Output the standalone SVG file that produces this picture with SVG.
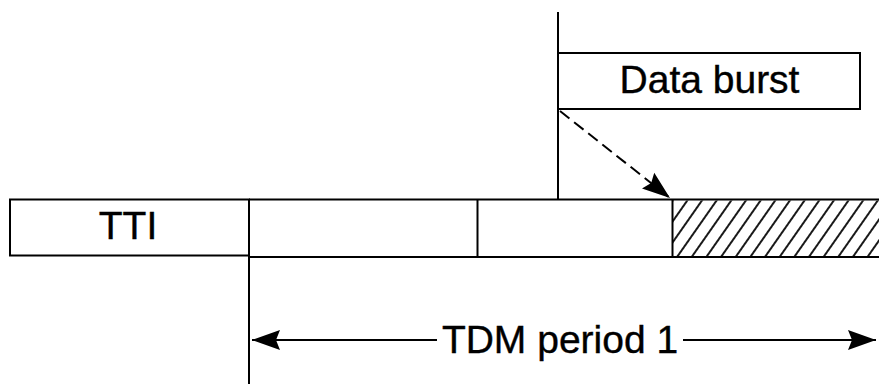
<svg xmlns="http://www.w3.org/2000/svg" width="879" height="385" viewBox="0 0 879 385">
  <style>
    .box { fill: #fff; stroke: #000; stroke-width: 2; }
    .ln { stroke: #000; stroke-width: 2; fill: none; }
    .lbl { font-family: "Liberation Sans", Arial, sans-serif; font-size: 39px; fill: #000; stroke: #000; stroke-width: 0.4; text-anchor: middle; }
  </style>
  <defs>
    <pattern id="hatch" patternUnits="userSpaceOnUse" width="12" height="12" patternTransform="rotate(35)">
      <line x1="6" y1="-2" x2="6" y2="14" stroke="#000" stroke-width="1.8"/>
    </pattern>
    <marker id="ah" markerUnits="userSpaceOnUse" markerWidth="30" markerHeight="22" refX="28" refY="11" orient="auto" viewBox="0 0 30 22">
      <path d="M0,1 L28,11 L0,21 L4,11 Z" fill="#000"/>
    </marker>
  </defs>

  <g id="tti">
    <rect class="box" x="10" y="199.5" width="239" height="56"/>
    <text class="lbl" x="128" y="239">TTI</text>
  </g>

  <g id="tdm-strip">
    <path class="ln" d="M249,199.5 H879 M249,257 H879"/>
    <line class="ln" x1="477.5" y1="199.5" x2="477.5" y2="257"/>
    <rect x="672.5" y="200.5" width="207" height="55.5" fill="url(#hatch)"/>
    <line class="ln" x1="672.5" y1="199.5" x2="672.5" y2="257"/>
  </g>

  <g id="data-burst">
    <rect class="box" x="558" y="53" width="302" height="56"/>
    <text class="lbl" x="709.5" y="93">Data burst</text>
  </g>

  <g id="connectors">
    <line class="ln" x1="249" y1="199.5" x2="249" y2="384"/>
    <line class="ln" x1="558" y1="12" x2="558" y2="199.5"/>
    <line x1="560" y1="111" x2="670" y2="198" stroke="#000" stroke-width="2" stroke-dasharray="12,6" marker-end="url(#ah)"/>
    <line class="ln" x1="437" y1="340" x2="252" y2="340" marker-end="url(#ah)"/>
    <line class="ln" x1="683" y1="340" x2="876" y2="340" marker-end="url(#ah)"/>
    <text class="lbl" x="560" y="353">TDM period 1</text>
  </g>
</svg>
